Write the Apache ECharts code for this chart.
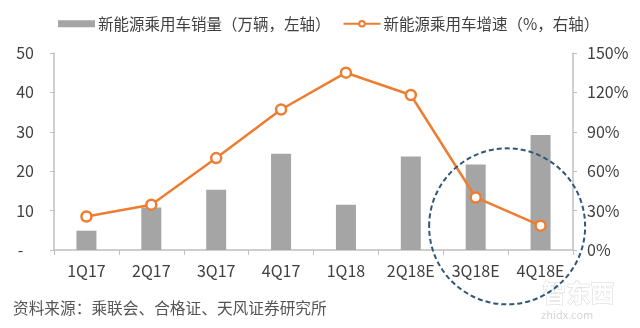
<!DOCTYPE html>
<html>
<head>
<meta charset="utf-8">
<script src="https://cdn.jsdelivr.net/npm/echarts@6/dist/echarts.min.js"></script>
<style>
  html, body { margin: 0; padding: 0; background: #fff; }
  #chart { width: 640px; height: 328px; }
</style>
</head>
<body>
<div id="chart"></div>
<script>
// Quarterly NEV passenger car sales (10k units) and growth rate
const quarters = ['1Q17', '2Q17', '3Q17', '4Q17', '1Q18', '2Q18E', '3Q18E', '4Q18E'];
const salesWan = [4.9, 10.8, 15.3, 24.4, 11.5, 23.7, 21.7, 29.2];
const growthRate = [0.255, 0.345, 0.70, 1.07, 1.35, 1.18, 0.40, 0.185];
const leftTicks = [0, 50, 10];     // min, max, interval
const rightTicks = [0, 1.5, 0.3];  // min, max, interval

const FONT = '"Noto Sans CJK SC", "Noto Sans", sans-serif';
const chart = echarts.init(document.getElementById('chart'), null, { renderer: 'canvas' });

const axisGray = '#bfbfbf';
const textColor = '#404040';
const option = {
  animation: false,
  backgroundColor: '#fff',
  textStyle: { fontFamily: FONT },
  legend: {
    top: 11,
    left: 53,
    itemGap: 12,
    textStyle: { fontSize: 15.5, color: textColor, fontFamily: FONT, padding: [0, 0, 0, -2] },
    data: [
      { name: '新能源乘用车销量（万辆，左轴）', icon: 'rect', itemStyle: { color: '#a5a5a5' } },
      { name: '新能源乘用车增速（%，右轴）' }
    ],
    itemWidth: 37,
    itemHeight: 7
  },
  grid: { left: 54, right: 67, top: 53, bottom: 78 },
  xAxis: {
    type: 'category',
    data: quarters,
    axisLine: { lineStyle: { color: axisGray, width: 1.5 } },
    axisTick: { show: true, lineStyle: { color: axisGray } },
    axisLabel: { color: textColor, fontSize: 16, margin: 13, fontFamily: FONT }
  },
  yAxis: [
    {
      type: 'value',
      min: leftTicks[0], max: leftTicks[1], interval: leftTicks[2],
      axisLine: { show: true, lineStyle: { color: axisGray, width: 1.5 } },
      axisTick: { show: true, length: 4, lineStyle: { color: axisGray } },
      splitLine: { show: false },
      axisLabel: {
        color: textColor, fontSize: 16, margin: 20, fontFamily: FONT,
        formatter: v => (v === 0 ? '-   ' : String(v))
      }
    },
    {
      type: 'value',
      min: rightTicks[0], max: rightTicks[1], interval: rightTicks[2],
      axisLine: { show: true, lineStyle: { color: axisGray, width: 1.5 } },
      axisTick: { show: true, length: 4, lineStyle: { color: axisGray } },
      splitLine: { show: false },
      axisLabel: {
        color: textColor, fontSize: 16, margin: 14, fontFamily: FONT,
        formatter: v => Math.round(v * 100) + '%'
      }
    }
  ],
  series: [
    {
      name: '新能源乘用车销量（万辆，左轴）',
      type: 'bar',
      yAxisIndex: 0,
      data: salesWan,
      barWidth: 20,
      itemStyle: { color: '#a5a5a5' }
    },
    {
      name: '新能源乘用车增速（%，右轴）',
      type: 'line',
      yAxisIndex: 1,
      data: growthRate,
      symbol: 'circle',
      symbolSize: 10,
      lineStyle: { color: '#ED7D31', width: 2.5 },
      itemStyle: { color: '#fff', borderColor: '#ED7D31', borderWidth: 2.5 }
    }
  ]
};
chart.setOption(option);

// Dashed highlight ring around the two forecast quarters, plus footer text
const p3 = chart.convertToPixel({ xAxisIndex: 0, yAxisIndex: 0 }, ['3Q18E', 6]);
const p4 = chart.convertToPixel({ xAxisIndex: 0, yAxisIndex: 0 }, ['4Q18E', 6]);
const cx = (p3[0] + p4[0]) / 2 - 1;
const cy = p3[1];
chart.setOption({
  graphic: [
    {
      type: 'ellipse',
      shape: { cx: cx, cy: cy, rx: 78, ry: 78 },
      style: { fill: 'none', stroke: '#2f5878', lineWidth: 2, lineDash: [5, 3] },
      z: 10
    },
    {
      type: 'text', left: 13, top: 300,
      style: { text: '资料来源：乘联会、合格证、天风证券研究所', fill: '#555', fontSize: 15.7, fontFamily: FONT }
    },
    {
      type: 'text', left: 542, top: 280,
      style: { text: '智东西', fill: '#fff', stroke: '#d6d6d6', lineWidth: 1, fontSize: 24, fontWeight: 'bold', fontFamily: FONT }
    },
    {
      type: 'text', left: 541, top: 309,
      style: { text: 'zhidx.com', fill: '#d6d6d6', fontSize: 11, fontFamily: FONT, letterSpacing: 2 }
    }
  ]
});
</script>
</body>
</html>
